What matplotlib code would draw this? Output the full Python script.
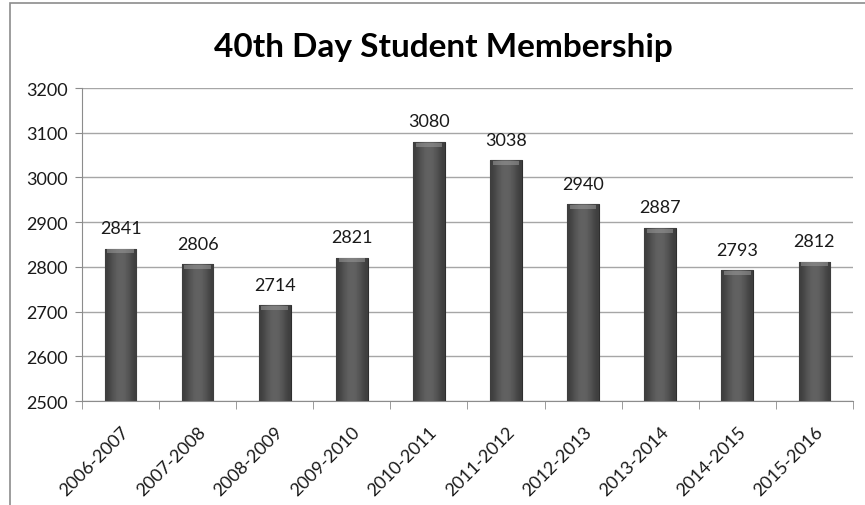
import numpy as np
import matplotlib
matplotlib.use("Agg")
from matplotlib import pyplot as plt
from matplotlib.patches import Rectangle

# Data
years = ["2006-2007", "2007-2008", "2008-2009", "2009-2010", "2010-2011",
         "2011-2012", "2012-2013", "2013-2014", "2014-2015", "2015-2016"]
members = [2841, 2806, 2714, 2821, 3080, 3038, 2940, 2887, 2793, 2812]
yticks = [2500, 2600, 2700, 2800, 2900, 3000, 3100, 3200]

plt.rcParams["font.family"] = ["Lato", "DejaVu Sans"]

fig = plt.figure(figsize=(8.65, 5.06), dpi=100)
ax = fig.add_axes([0.0948, 0.2055, 0.8912, 0.6185])

x = np.arange(len(years))
bars = ax.bar(x, np.array(members) - 2500, bottom=2500, width=0.41,
              color="#4a4a4a", edgecolor="#2e2e2e", linewidth=0.8, zorder=3)

# horizontal shading to mimic the cylinder-ish look
grad = np.array([[0.24, 0.31, 0.37, 0.39, 0.37, 0.31, 0.24]])
for b in bars:
    bx, by, bw, bh = b.get_x(), b.get_y(), b.get_width(), b.get_height()
    im = ax.imshow(grad, cmap="gray", vmin=0, vmax=1, aspect="auto",
                   extent=(bx, bx + bw, by, by + bh), interpolation="bicubic",
                   zorder=3.5)
    im.set_clip_path(b)
    # lighter bevel on top
    ax.add_patch(Rectangle((bx + bw * 0.08, by + bh - 11), bw * 0.84, 9,
                           facecolor="#9a9a9a", edgecolor="none", alpha=0.55,
                           zorder=3.6))
    ax.annotate(str(int(by + bh)), (bx + bw / 2, by + bh), xytext=(0, 9),
                textcoords="offset points", ha="center", va="bottom",
                fontsize=13, color="#1a1a1a", zorder=5)

ax.set_xlim(-0.5, len(years) - 0.5)
ax.set_ylim(2500, 3200)
ax.set_yticks(yticks)
ax.set_yticklabels([str(t) for t in yticks], fontsize=13, color="#1a1a1a")
ax.set_xticks(x)
ax.set_xticklabels(years, rotation=45, ha="right", rotation_mode="anchor",
                   fontsize=13, color="#1a1a1a")
ax.tick_params(axis="x", length=0, pad=16)
ax.tick_params(axis="y", length=5, color="#8c8c8c", pad=5)

# category boundary ticks on x axis
ax.set_xticks(np.arange(-0.5, len(years), 1.0), minor=True)
ax.tick_params(axis="x", which="minor", length=6, color="#8c8c8c")

ax.grid(axis="y", color="#a6a6a6", linewidth=1, zorder=0)
for s in ["top", "right"]:
    ax.spines[s].set_visible(False)
ax.spines["left"].set_color("#8c8c8c")
ax.spines["bottom"].set_color("#8c8c8c")

fig.text(0.512, 0.907, "40th Day Student Membership", ha="center",
         va="center", fontsize=24, fontweight="bold", color="#000000")

# outer chart frame
fig.patches.append(Rectangle((10 / 865, -0.2), 1.2, 1.2 - 4 / 506,
                             transform=fig.transFigure, fill=False,
                             edgecolor="#8c8c8c", linewidth=1.2))

fig.savefig("out.png", dpi=100)
